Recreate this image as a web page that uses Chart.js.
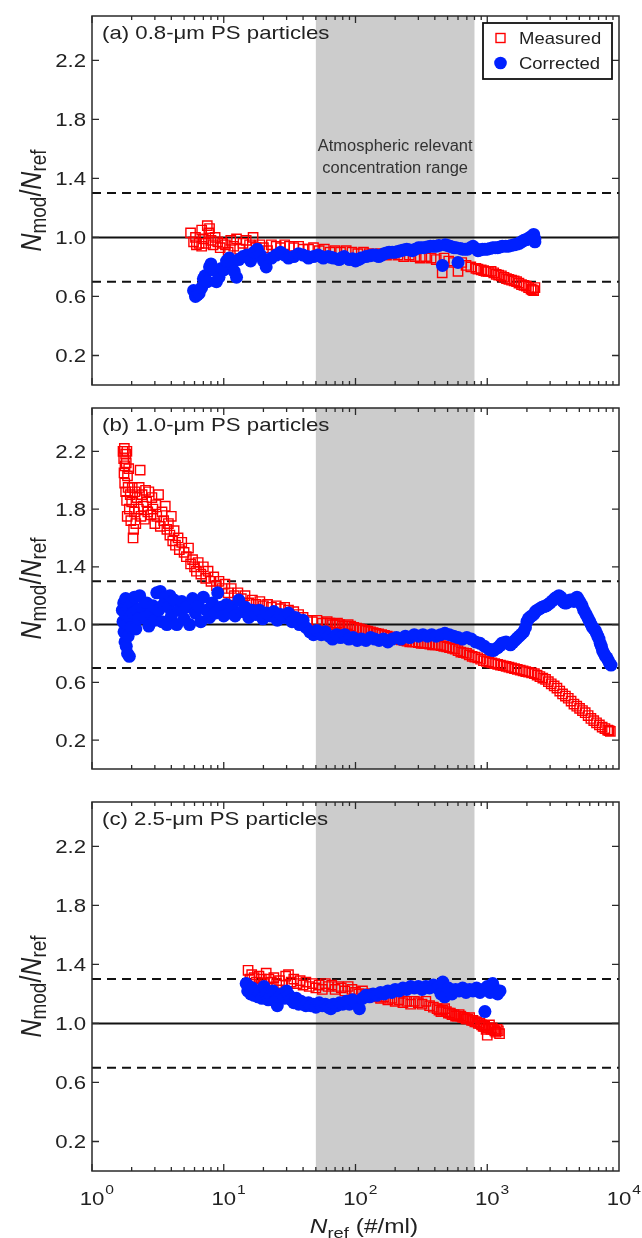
<!DOCTYPE html>
<html><head><meta charset="utf-8">
<script src="https://cdn.jsdelivr.net/npm/chart.js@4.4.1/dist/chart.umd.min.js"></script>
<style>
html,body{margin:0;padding:0;background:#fff;}
#wrap{position:relative;width:642px;height:1238px;overflow:hidden;background:#fff;}
canvas{position:absolute;left:0;}
</style></head><body>
<div id="wrap">
<canvas id="ca" width="642" height="400" style="top:0px;width:642px;height:400px"></canvas>
<canvas id="cb" width="642" height="400" style="top:392px;width:642px;height:400px"></canvas>
<canvas id="cc" width="642" height="452" style="top:786px;width:642px;height:452px"></canvas>
</div>
<script>
// ---------- data ----------
const panelLabels = ['(a) 0.8-\u03bcm PS particles', '(b) 1.0-\u03bcm PS particles', '(c) 2.5-\u03bcm PS particles'];
const seriesNames = ['Measured', 'Corrected'];
const yTickValues = [0.2, 0.6, 1.0, 1.4, 1.8, 2.2];
const xTickExponents = [0, 1, 2, 3, 4];
const bandRange = [50, 800];
const bandText = ['Atmospheric relevant', 'concentration range'];
const unityLine = 1.0;
const limitLines = [1.3, 0.7];

const measuredA = [[5.6,1.03],[5.9,0.97],[6.1,1.0],[6.2,0.95],[6.5,0.96],[6.8,0.94],[6.8,1.05],[7.0,0.99],[7.3,0.96],[7.5,1.08],[7.7,1.03],[7.8,1.06],[8.0,0.98],[8.3,0.95],[8.6,1.0],[9.0,0.97],[9.4,0.93],[9.8,0.96],[10.3,0.95],[10.8,0.9],[11.3,0.98],[11.9,0.94],[12.5,0.99],[13.2,0.92],[14.0,0.96],[14.8,0.98],[15.7,0.95],[16.7,1.0],[17.6,0.93],[18.8,0.95],[20,0.93],[21.5,0.91],[23,0.95],[25,0.94],[27,0.93],[29,0.95],[31.5,0.94],[34,0.93],[37,0.94],[40,0.92],[44,0.92],[48,0.93],[53,0.91],[58,0.92],[64,0.9],[70,0.91],[77,0.9],[85,0.91],[94,0.9],[104,0.89],[115,0.9],[127,0.89],[140,0.88],[155,0.89],[172,0.88],[190,0.89],[210,0.88],[232,0.87],[256,0.88],[282,0.87],[310,0.86],[340,0.87],[375,0.86],[410,0.85],[455,0.76],[470,0.86],[510,0.84],[555,0.83],[600,0.77],[640,0.83],[690,0.81],[750,0.8],[820,0.79],[900,0.78],[980,0.77],[1070,0.77],[1170,0.75],[1280,0.74],[1400,0.72],[1530,0.71],[1670,0.7],[1820,0.68],[1980,0.67],[2150,0.65],[2250,0.64],[2300,0.66],
  [850,0.785],[940,0.775],[1020,0.77],[1120,0.76],[1220,0.745],[1340,0.73],[1460,0.715],[1600,0.705],[1740,0.69],[1900,0.675],[2060,0.66],[2200,0.645]];
const correctedA = [[5.9,0.64],[6.1,0.6],[6.3,0.61],[6.5,0.62],[6.8,0.66],[7.0,0.72],[7.2,0.74],[7.5,0.7],[7.8,0.8],[8.0,0.82],[8.4,0.78],[8.8,0.7],[9.2,0.73],[9.6,0.79],[10,0.78],[10.5,0.84],[11,0.86],[11.5,0.82],[12,0.77],[12.5,0.73],[13,0.85],[14,0.87],[15,0.88],[16,0.84],[17,0.9],[18,0.92],[19,0.88],[20,0.84],[21,0.8],[23,0.86],[25,0.88],[27,0.9],[29,0.88],[31,0.86],[34,0.87],[37,0.89],[40,0.88],[44,0.86],[48,0.87],[52,0.88],[57,0.86],[62,0.87],[68,0.86],[75,0.85],[82,0.87],[90,0.85],[100,0.84],[110,0.86],[120,0.87],[135,0.88],[150,0.87],[165,0.89],[180,0.9],[200,0.9],[220,0.91],[245,0.92],[270,0.91],[300,0.93],[330,0.93],[370,0.94],[410,0.94],[457,0.81],[480,0.95],[520,0.94],[560,0.93],[600,0.83],[650,0.92],[710,0.92],[780,0.94],[850,0.91],[920,0.92],[1000,0.92],[1100,0.93],[1200,0.93],[1300,0.94],[1450,0.94],[1600,0.95],[1750,0.96],[1900,0.98],[2050,0.99],[2150,1.0],[2250,1.02],[2300,0.99],[2300,0.97],
  [43,0.87],[55,0.87],[65,0.865],[78,0.86],[95,0.855],[105,0.85],[128,0.875],[142,0.88],[158,0.88],[172,0.895],[190,0.9],[210,0.905],[232,0.915],[258,0.915],[285,0.92],[315,0.93],[350,0.935],[390,0.94],[430,0.945],[500,0.945],[540,0.935],[580,0.93],[625,0.925],[680,0.92],[745,0.93],[815,0.925],[885,0.915],[960,0.92],[1050,0.925],[1150,0.93],[1250,0.935],[1380,0.94],[1520,0.945],[1680,0.955],[1820,0.97],[1980,0.985],[2100,1.0],[2200,1.01],[2280,0.98]];

const measuredB = [[1.72,2.2],[1.74,2.15],[1.76,2.22],[1.78,2.1],[1.8,2.18],[1.75,2.05],[1.82,2.12],[1.77,1.98],[1.84,2.2],[1.86,2.03],[1.8,1.92],[1.88,1.95],[1.83,1.86],[1.9,2.08],[1.92,1.8],[1.85,1.75],[1.95,1.9],[1.97,1.72],[2.0,1.85],[2.02,1.95],[2.05,1.6],[2.07,1.66],[2.1,1.78],[2.12,1.92],[2.15,1.7],[2.2,1.88],[2.25,1.8],[2.28,1.95],[2.32,2.07],[2.35,1.75],[2.4,1.9],[2.45,1.82],[2.5,1.73],[2.55,1.93],[2.6,1.85],[2.65,1.78],[2.7,1.92],[2.8,1.76],[2.85,1.88],[2.9,1.8],[3.0,1.7],[3.05,1.83],[3.1,1.75],[3.2,1.9],[3.3,1.68],[3.4,1.78],[3.5,1.72],[3.6,1.82],[3.7,1.66],[3.8,1.7],[3.9,1.62],[4.0,1.75],[4.1,1.58],[4.2,1.65],[4.3,1.55],[4.5,1.6],[4.6,1.52],[4.8,1.57],[5.0,1.5],[5.2,1.47],[5.4,1.53],[5.6,1.42],[5.8,1.45],[6.0,1.4],[6.2,1.37],[6.4,1.43],[6.7,1.35],[7.0,1.4],[7.3,1.32],[7.6,1.37],[8.0,1.3],[8.4,1.33],[8.8,1.27],[9.2,1.3],[9.7,1.25],[10.2,1.28],[10.8,1.22],[11.4,1.25],[12,1.2],[12.8,1.22],[13.6,1.18],[14.5,1.2],[15.5,1.15],[16.5,1.17],[17.6,1.14],[18.8,1.16],[20,1.13],[21.5,1.14],[23,1.12],[25,1.13],[27,1.11],[29,1.12],[31,1.1],[34,1.09],[37,1.07],[40,1.05],[43,1.03],[47,1.02],[51,1.03],[56,1.01],[61,1.02],[67,1.0],[73,1.01],[80,0.99],[88,1.0],[97,0.98],[107,0.97],[118,0.96],[130,0.95],[143,0.94],[158,0.93],[174,0.92],[192,0.91],[212,0.9],[234,0.89],[258,0.88],[285,0.88],[315,0.87],[348,0.87],[384,0.86],[424,0.86],[468,0.85],[517,0.84],[571,0.83],[630,0.81],[696,0.8],[768,0.78],[848,0.77],[936,0.75],[1030,0.74],[1140,0.73],[1260,0.72],[1390,0.71],[1530,0.7],[1690,0.69],[1870,0.68],[2060,0.67],[2280,0.66],[2510,0.64],[2770,0.62],[3060,0.59],[3380,0.56],[3730,0.52],[4120,0.49],[4550,0.45],[5020,0.42],[5540,0.39],[6120,0.35],[6750,0.32],[7450,0.29],[8200,0.27],[8600,0.26],
  [64,1.01],[70,1.0],[76,1.0],[84,0.99],[92,0.99],[102,0.975],[112,0.965],[124,0.955],[136,0.945],[150,0.935],[166,0.925],[183,0.915],[202,0.905],[223,0.895],[246,0.885],[271,0.88],[300,0.875],[331,0.87],[366,0.865],[404,0.86],[446,0.855],[492,0.845],
  [545,0.835],[600,0.82],[660,0.805],[730,0.79],[805,0.775],[890,0.76],[985,0.745],[1085,0.735],[1200,0.725],[1320,0.715],[1460,0.705],[1610,0.695],[1780,0.685],[1960,0.675],[2170,0.665],[2390,0.65],[2640,0.63],[2910,0.605],[3220,0.575],[3550,0.54],[3920,0.505],[4330,0.47],[4780,0.435],[5280,0.405],[5830,0.37],[6430,0.335],[7100,0.305],[7820,0.28],[8400,0.265]];
const correctedB = [[1.7,1.1],[1.72,1.02],[1.74,1.15],[1.75,0.95],[1.77,1.08],[1.78,0.88],[1.8,1.18],[1.82,0.85],[1.84,1.0],[1.86,0.8],[1.88,0.92],[1.9,1.12],[1.92,0.78],[1.95,1.05],[1.98,0.98],[2.0,1.15],[2.05,1.08],[2.1,1.19],[2.15,0.97],[2.2,1.1],[2.25,1.04],[2.3,1.2],[2.4,1.12],[2.5,1.05],[2.6,1.15],[2.7,0.99],[2.8,1.08],[2.9,1.13],[3.0,1.03],[3.1,1.22],[3.2,1.1],[3.3,1.23],[3.4,1.02],[3.5,1.14],[3.6,1.19],[3.7,1.0],[3.8,1.12],[3.9,1.2],[4.0,1.06],[4.2,1.17],[4.4,1.0],[4.6,1.1],[4.8,1.16],[5.0,1.04],[5.2,1.12],[5.5,1.0],[5.8,1.18],[6.1,1.08],[6.4,1.13],[6.7,1.02],[7.0,1.19],[7.4,1.1],[7.8,1.05],[8.2,1.15],[8.6,1.08],[9.0,1.22],[9.5,1.12],[10,1.06],[10.5,1.14],[11,1.08],[11.6,1.12],[12.2,1.06],[13,1.17],[13.8,1.09],[14.6,1.12],[15.5,1.05],[16.5,1.1],[17.5,1.07],[18.6,1.1],[19.8,1.04],[21,1.08],[22.5,1.06],[24,1.09],[25.5,1.03],[27,1.07],[29,1.05],[31,1.08],[33,1.02],[35,1.05],[37.5,1.0],[40,1.03],[42,0.98],[45,0.95],[48,0.93],[51,0.96],[55,0.93],[59,0.95],[63,0.92],[67,0.9],[72,0.93],[77,0.91],[83,0.93],[89,0.9],[96,0.91],[103,0.89],[111,0.9],[120,0.89],[130,0.91],[140,0.9],[151,0.89],[163,0.9],[176,0.88],[190,0.9],[205,0.91],[221,0.9],[239,0.92],[258,0.91],[279,0.93],[301,0.92],[325,0.93],[351,0.92],[379,0.93],[409,0.92],[442,0.93],[477,0.94],[515,0.93],[556,0.92],[600,0.91],[648,0.9],[700,0.91],[756,0.9],[816,0.88],[881,0.87],[951,0.85],[1030,0.83],[1110,0.82],[1200,0.84],[1290,0.87],[1390,0.88],[1500,0.86],[1620,0.89],[1750,0.92],[1890,0.95],[2000,1.02],[2100,1.05],[2250,1.07],[2400,1.1],[2600,1.12],[2800,1.13],[3000,1.15],[3250,1.18],[3500,1.2],[3750,1.16],[4000,1.15],[4250,1.17],[4550,1.16],[4800,1.19],[5100,1.15],[5400,1.1],[5700,1.06],[6000,1.02],[6300,0.98],[6600,0.96],[6900,0.92],[7200,0.87],[7500,0.82],[7900,0.78],[8300,0.75],[8700,0.72],
  [2050,1.04],[2170,1.06],[2320,1.09],[2500,1.11],[2700,1.125],[2900,1.14],[3120,1.165],[3370,1.19],[3620,1.19],[3870,1.15],[4120,1.16],[4400,1.17],[4680,1.18],[4950,1.17],[5250,1.13],[5550,1.08],[5850,1.04],[6150,1.0],[6450,0.97],[6750,0.94],[7050,0.9],[7350,0.85],[7700,0.8],[8100,0.77],[8500,0.73],[1060,0.825],[1150,0.83],[1250,0.855],[1340,0.875],[1440,0.87],[1560,0.875],[1680,0.905],[1820,0.935],[1950,0.98]];

const measuredC = [[15.3,1.36],[15.8,1.3],[16.3,1.33],[17,1.31],[17.7,1.28],[18.5,1.32],[19.3,1.3],[20.2,1.27],[21,1.34],[22,1.3],[23,1.28],[24,1.31],[25.2,1.27],[26.5,1.29],[28,1.26],[29.5,1.32],[31,1.33],[32.5,1.28],[34,1.3],[36,1.27],[38,1.29],[40,1.26],[42,1.28],[44.5,1.25],[47,1.27],[50,1.24],[53,1.26],[56,1.23],[59,1.27],[62,1.25],[66,1.26],[70,1.23],[74,1.25],[78,1.24],[83,1.22],[88,1.25],[94,1.23],[100,1.21],[106,1.2],[113,1.22],[120,1.2],[128,1.19],[136,1.2],[145,1.18],[155,1.17],[165,1.18],[176,1.16],[188,1.17],[200,1.15],[214,1.16],[229,1.14],[245,1.15],[262,1.13],[280,1.15],[300,1.14],[320,1.13],[342,1.15],[365,1.12],[390,1.11],[416,1.1],[445,1.08],[475,1.1],[507,1.07],[540,1.06],[575,1.05],[612,1.06],[650,1.04],[690,1.03],[735,1.04],[780,1.02],[830,1.01],[880,1.0],[930,0.98],[980,0.96],[1000,0.92],[1040,0.99],[1090,0.97],[1140,0.95],[1190,0.96],[1240,0.93],
  [430,1.09],[460,1.09],[490,1.08],[525,1.07],[560,1.06],[595,1.05],[630,1.05],[670,1.04],[710,1.03],[760,1.02],[805,1.01],[855,1.0],[905,0.99],[955,0.98],[1015,0.97],[1065,0.96],[1115,0.96],[1165,0.94],[1215,0.95]];
const correctedC = [[14.8,1.27],[15.2,1.22],[15.6,1.25],[16,1.2],[16.5,1.24],[17,1.19],[17.6,1.22],[18.2,1.18],[18.8,1.21],[19.5,1.17],[20.2,1.25],[21,1.2],[21.8,1.16],[22.7,1.19],[23.6,1.22],[24.5,1.15],[25.5,1.12],[26.5,1.18],[27.6,1.2],[28.7,1.17],[30,1.22],[31.3,1.19],[32.7,1.16],[34,1.14],[35.5,1.17],[37,1.13],[38.6,1.15],[40.3,1.13],[42,1.12],[44,1.14],[46,1.12],[48,1.13],[50,1.11],[53,1.14],[56,1.12],[59,1.13],[62,1.11],[65,1.1],[68,1.13],[72,1.12],[76,1.14],[80,1.13],[85,1.15],[90,1.13],[95,1.16],[100,1.14],[107,1.1],[113,1.17],[120,1.19],[128,1.18],[136,1.2],[145,1.19],[155,1.21],[165,1.2],[176,1.22],[188,1.21],[200,1.23],[214,1.22],[229,1.24],[245,1.23],[262,1.25],[280,1.24],[300,1.25],[320,1.23],[342,1.25],[365,1.24],[390,1.26],[416,1.24],[445,1.2],[460,1.28],[475,1.18],[507,1.24],[540,1.2],[575,1.23],[612,1.22],[650,1.24],[690,1.21],[735,1.23],[780,1.22],[830,1.24],[880,1.21],[930,1.23],[960,1.08],[1000,1.25],[1050,1.21],[1100,1.27],[1150,1.23],[1200,1.2],[1250,1.22]];

// ---------- drawing helpers ----------
const FONT = '"Liberation Sans", Arial, Helvetica, sans-serif';
const RED = '#ff0000', BLUE = '#0020ff', INK = '#222222';
function fontStr(p){ return (p.italic ? 'italic ' : '') + p.size + 'px ' + FONT; }
function drawRich(ctx, parts, x, y, sx, sy, align){
  const widths = parts.map(p => { ctx.font = fontStr(p); return ctx.measureText(p.t).width * sx + (p.gap || 0); });
  const total = widths.reduce((a, b) => a + b, 0);
  let cx = align === 'center' ? x - total / 2 : (align === 'right' ? x - total : x);
  parts.forEach((p, i) => {
    ctx.save();
    ctx.font = fontStr(p);
    ctx.translate(cx, y + (p.dy || 0));
    ctx.scale(sx, sy);
    ctx.textAlign = 'left';
    ctx.textBaseline = 'alphabetic';
    ctx.fillStyle = p.color || INK;
    ctx.fillText(p.t, 0, 0);
    ctx.restore();
    cx += widths[i];
  });
}

const decor = {
  id: 'decor',
  beforeDatasetsDraw(chart){
    const ctx = chart.ctx, a = chart.chartArea, xs = chart.scales.x, ys = chart.scales.y;
    ctx.save();
    const x0 = xs.getPixelForValue(bandRange[0]), x1 = xs.getPixelForValue(bandRange[1]);
    ctx.fillStyle = '#cccccc';
    ctx.fillRect(x0, a.top, x1 - x0, a.bottom - a.top);
    if (chart.options.plugins.decor.panel === 0){
      const cxm = (x0 + x1) / 2;
      drawRich(ctx, [{t: bandText[0], size: 16, color: '#333'}], cxm, 151, 1.03, 1, 'center');
      drawRich(ctx, [{t: bandText[1], size: 16, color: '#333'}], cxm, 173, 1.03, 1, 'center');
    }
    ctx.strokeStyle = '#111';
    ctx.lineWidth = 2;
    let yy = ys.getPixelForValue(unityLine);
    ctx.beginPath(); ctx.moveTo(a.left, yy); ctx.lineTo(a.right, yy); ctx.stroke();
    ctx.setLineDash([9, 6]);
    limitLines.forEach(v => {
      const y = ys.getPixelForValue(v);
      ctx.beginPath(); ctx.moveTo(a.left, y); ctx.lineTo(a.right, y); ctx.stroke();
    });
    ctx.restore();
  },
  afterDraw(chart){
    const ctx = chart.ctx, a = chart.chartArea, xs = chart.scales.x, ys = chart.scales.y;
    const panel = chart.options.plugins.decor.panel;
    ctx.save();
    ctx.strokeStyle = '#2a2a2a';
    ctx.lineWidth = 1.5;
    ctx.strokeRect(a.left, a.top, a.right - a.left, a.bottom - a.top);
    ctx.lineWidth = 1.3;
    ctx.beginPath();
    for (let e = 0; e < 4; e++){
      for (let m = 1; m <= 9; m++){
        const v = m * Math.pow(10, e);
        const px = xs.getPixelForValue(v);
        const L = m === 1 ? 7 : 4;
        ctx.moveTo(px, a.bottom); ctx.lineTo(px, a.bottom - L);
        ctx.moveTo(px, a.top); ctx.lineTo(px, a.top + L);
      }
    }
    yTickValues.forEach(v => {
      const py = ys.getPixelForValue(v);
      ctx.moveTo(a.left, py); ctx.lineTo(a.left + 7, py);
      ctx.moveTo(a.right, py); ctx.lineTo(a.right - 7, py);
    });
    ctx.stroke();
    yTickValues.forEach(v => {
      const py = ys.getPixelForValue(v);
      drawRich(ctx, [{t: v.toFixed(1), size: 18.5}], a.left - 6, py + 6.6, 1.2, 1, 'right');
    });
    ctx.save();
    ctx.translate(41, (a.top + a.bottom) / 2);
    ctx.rotate(-Math.PI / 2);
    drawRich(ctx, [
      {t: 'N', size: 25, italic: true},
      {t: 'mod', size: 19, dy: 5},
      {t: '/', size: 25},
      {t: 'N', size: 25, italic: true},
      {t: 'ref', size: 19, dy: 5}
    ], 0, 0, 1, 1.2, 'center');
    ctx.restore();
    drawRich(ctx, [{t: panelLabels[panel], size: 18.5}], a.left + 10, a.top + 23, 1.2, 1, 'left');
    if (panel === 0){
      ctx.lineWidth = 1.8;
      ctx.strokeStyle = '#111';
      ctx.strokeRect(483, 23, 129, 56);
      ctx.lineWidth = 1.4;
      ctx.strokeStyle = RED;
      ctx.strokeRect(496, 33.5, 9, 9);
      ctx.fillStyle = BLUE;
      ctx.beginPath(); ctx.arc(500.5, 63, 6.3, 0, Math.PI * 2); ctx.fill();
      drawRich(ctx, [{t: seriesNames[0], size: 16.5}], 519, 44, 1.12, 1, 'left');
      drawRich(ctx, [{t: seriesNames[1], size: 16.5}], 519, 69, 1.12, 1, 'left');
    }
    if (panel === 2){
      xTickExponents.forEach(e => {
        const px = xs.getPixelForValue(Math.pow(10, e));
        ctx.font = fontStr({size: 18.5});
        const w = ctx.measureText('10').width * 1.2;
        drawRich(ctx, [{t: '10', size: 18.5}], px - w / 2, a.bottom + 34, 1.2, 1, 'left');
        drawRich(ctx, [{t: String(e), size: 13}], px + w / 2 + 1, a.bottom + 23, 1.2, 1, 'left');
      });
      drawRich(ctx, [
        {t: 'N', size: 20, italic: true},
        {t: 'ref', size: 15, dy: 5, gap: 7},
        {t: '(#/ml)', size: 20}
      ], 364, a.bottom + 62, 1.22, 1, 'center');
    }
    ctx.restore();
  }
};

function toPts(arr){ return arr.map(([x, y]) => ({x, y})); }
function makeChart(id, meas, corr, panel, padBottom){
  return new Chart(document.getElementById(id), {
    type: 'scatter',
    data: { datasets: [
      { label: seriesNames[0], data: toPts(meas), pointStyle: 'rect', pointRadius: 6.6, pointHoverRadius: 6.6,
        backgroundColor: 'rgba(0,0,0,0)', borderColor: RED, borderWidth: 1.4, order: 2 },
      { label: seriesNames[1], data: toPts(corr), pointStyle: 'circle', pointRadius: 6.5, pointHoverRadius: 6.5,
        backgroundColor: BLUE, borderColor: BLUE, borderWidth: 0, order: 1 }
    ]},
    options: {
      responsive: false, animation: false, events: [],
      layout: { padding: { left: 92, right: 23, top: 16, bottom: padBottom } },
      scales: {
        x: { type: 'logarithmic', min: 1, max: 10000, display: false },
        y: { type: 'linear', min: 0, max: 2.5, display: false }
      },
      plugins: { legend: { display: false }, tooltip: { enabled: false }, decor: { panel } }
    },
    plugins: [decor]
  });
}
makeChart('ca', measuredA, correctedA, 0, 15);
makeChart('cb', measuredB, correctedB, 1, 23);
makeChart('cc', measuredC, correctedC, 2, 67);
</script>
</body></html>
